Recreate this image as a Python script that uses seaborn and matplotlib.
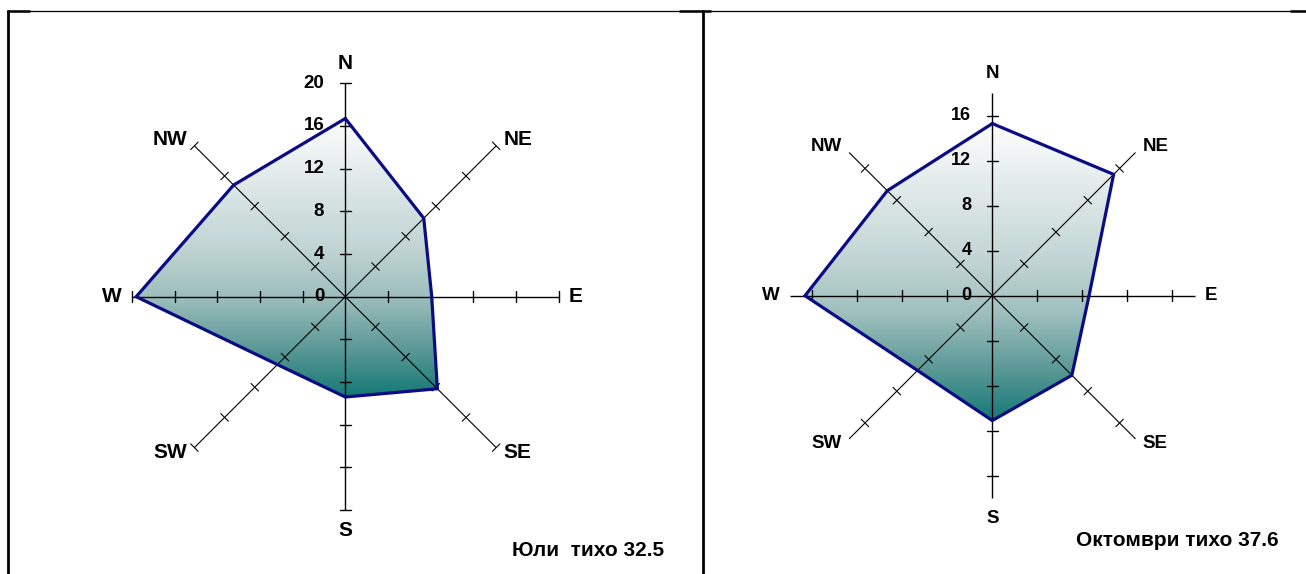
import numpy as np
import matplotlib
matplotlib.use("Agg")
import matplotlib.pyplot as plt
from matplotlib.colors import LinearSegmentedColormap
from matplotlib.patches import Polygon
from matplotlib.lines import Line2D
import seaborn as sns

# wind rose data (% of observations per direction)
directions = ["N", "NE", "E", "SE", "S", "SW", "W", "NW"]
july = [16.7, 10.4, 8.1, 12.2, 9.4, 9.0, 19.6, 14.8]
october = [15.3, 15.25, 8.6, 10.0, 11.1, 9.4, 16.65, 13.2]
july_ticks = [0, 4, 8, 12, 16, 20]
october_ticks = [0, 4, 8, 12, 16]
july_max = 20
october_max = 18
july_title = "Юли  тихо 32.5"
october_title = "Октомври тихо 37.6"

W, H = 1306, 574
PX = 0.72  # points per pixel at dpi 100

sns.set_theme(style="white")
plt.rcParams['font.family'] = ['Liberation Sans', 'DejaVu Sans']

fill_cmap = LinearSegmentedColormap.from_list(
    "rose", [(0.0, "#fdfdfd"), (0.47, "#c0d4d3"), (0.64, "#9dbfbd"),
             (0.83, "#5a9896"), (1.0, "#147976")])

# label offsets in pixels and alignment for each direction
label_style = {
    "N": ((0, 20), "center"), "NE": ((7, 6), "left"), "E": ((10, 0), "left"),
    "SE": ((7, -5), "left"), "S": ((0, -20), "center"), "SW": ((-7, -5), "right"),
    "W": ((-10, 0), "right"), "NW": ((-7, 6), "right"),
}


def draw_rose(ax, values, ticks, rmax, title, cx, cy, s, x0, x1, title_xy,
              dir_size, tick_size):
    ang = np.deg2rad(90 - 45 * np.arange(len(directions)))
    ux, uy = np.cos(ang), np.sin(ang)
    vals = np.asarray(values)
    xs, ys = vals * ux, vals * uy

    # gradient fill clipped to the polygon
    patch = Polygon(np.column_stack([xs, ys]), closed=True, facecolor="none",
                    edgecolor="none")
    ax.add_patch(patch)
    grad = np.linspace(1, 0, 256)[:, None]
    im = ax.imshow(grad, cmap=fill_cmap, vmin=0, vmax=1, origin="lower",
                   extent=(xs.min(), xs.max(), ys.min(), ys.max()),
                   aspect="auto", zorder=1, interpolation="bilinear")
    im.set_clip_path(patch)

    # axes and tick marks
    h = 5.3 / s
    for i, d in enumerate(directions):
        lw = 1.0 if i % 2 == 0 else 0.8
        ax.plot([0, rmax * ux[i]], [0, rmax * uy[i]], color="black", lw=lw,
                zorder=2, solid_capstyle="butt")
        px, py = -uy[i], ux[i]
        for t in ticks[1:]:
            tx, ty = t * ux[i], t * uy[i]
            ax.plot([tx - h * px, tx + h * px], [ty - h * py, ty + h * py],
                    color="black", lw=lw, zorder=2)
        (ox, oy), ha = label_style[d]
        ax.annotate(d, xy=(rmax * ux[i], rmax * uy[i]),
                    xytext=(ox * PX, oy * PX), textcoords="offset points",
                    ha=ha, va="center", fontsize=dir_size, fontweight="bold",
                    color="black", zorder=5)

    # polygon outline
    sns.lineplot(x=np.append(xs, xs[0]), y=np.append(ys, ys[0]), sort=False,
                 estimator=None, color="#0b0b84", linewidth=2.3, ax=ax, zorder=3)
    ax.lines[-1].set_solid_joinstyle("miter")

    # radial tick labels along N axis
    for t in ticks:
        ax.annotate(str(t), xy=(0, t), xytext=(-21 * PX, 0),
                    textcoords="offset points", ha="right", va="center",
                    fontsize=tick_size, fontweight="bold", color="black", zorder=5)

    ax.set_position([x0 / W, 0, (x1 - x0) / W, 1])
    ax.set_xlim((x0 - cx) / s, (x1 - cx) / s)
    ax.set_ylim((cy - H) / s, cy / s)
    ax.set_aspect("auto")
    ax.set_axis_off()

    fig.text(title_xy[0] / W, 1 - title_xy[1] / H, title, ha="right",
             va="center", fontsize=15, fontweight="bold", color="black")


fig = plt.figure(figsize=(W / 100, H / 100), dpi=100)
fig.patch.set_facecolor("white")
ax1 = fig.add_axes([0, 0, 0.5, 1])
ax2 = fig.add_axes([0.5, 0, 0.5, 1])

draw_rose(ax1, july, july_ticks, july_max, july_title,
          cx=345.3, cy=296.7, s=10.67, x0=9, x1=702, title_xy=(664, 550),
          dir_size=15, tick_size=13.5)
draw_rose(ax2, october, october_ticks, october_max, october_title,
          cx=992.3, cy=295.7, s=11.25, x0=704, x1=1306, title_xy=(1279, 541),
          dir_size=13.5, tick_size=13)


# table-like frame around the two panels
def fig_line(xp, yp, lw):
    fig.add_artist(Line2D([x / W for x in xp], [1 - y / H for y in yp],
                          transform=fig.transFigure, color="black", lw=lw,
                          solid_capstyle="butt"))


fig_line([8, 1306], [10.5, 10.5], 0.9)
fig_line([8, 8], [10, 574], 2.0)
fig_line([703, 703], [10, 574], 2.0)
fig_line([7, 30], [11, 11], 1.8)
fig_line([679, 711], [11, 11], 1.8)
fig_line([1290, 1306], [11, 11], 1.8)

fig.savefig("out.png", dpi=100)
